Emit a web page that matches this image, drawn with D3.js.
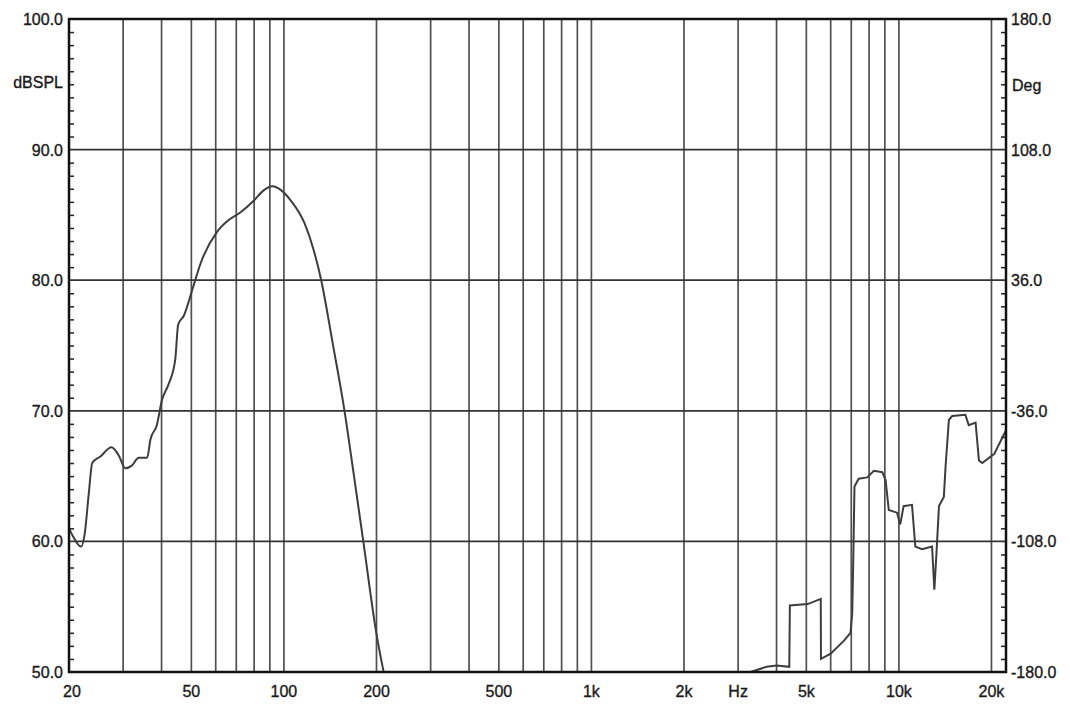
<!DOCTYPE html>
<html>
<head>
<meta charset="utf-8">
<script src="https://cdn.jsdelivr.net/npm/d3@7"></script>
<style>
  body { margin: 0; background: #fff; }
  text { font-family: 'Liberation Sans', Arial, sans-serif; fill: #1a1a1a; stroke: #1a1a1a; stroke-width: 0.35px; }
</style>
</head>
<body>
<svg id="chart" width="1070" height="712"></svg>
<script>
// Low band response (Hz, dBSPL)
const lowFreq = [20, 20.6, 21.9, 22.5, 23.2, 23.8, 25.3, 27.5, 29.0, 30.5, 32.0, 33.7, 35.9, 36.8, 38.6, 40.1, 42.1, 44.3, 45.3, 47.3, 50.7, 53.6, 60.6, 65.3, 72.3, 79.9, 86.1, 91.7, 97.8, 105.3, 116.5, 125, 132.2, 144, 157.4, 169, 181.2, 199.7, 211]
const lowDb = [61.0, 60.4, 59.6, 60.6, 63.7, 66.0, 66.5, 67.2, 66.6, 65.6, 65.8, 66.4, 66.4, 67.8, 68.9, 70.8, 72.0, 73.9, 76.6, 77.3, 79.5, 81.3, 83.7, 84.5, 85.2, 86.1, 86.9, 87.2, 86.9, 86.1, 84.4, 82.3, 80.0, 75.2, 70.0, 65.0, 60.0, 53.0, 50.0]

// High band trace (Hz, dBSPL)
const highFreq = [3296, 3710, 4000, 4400, 4420, 5050, 5570, 5580, 6000, 6630, 6960, 7050, 7100, 7170, 7400, 7890, 8290, 8830, 9050, 9270, 9860, 10100, 10360, 11030, 11310, 11890, 12820, 13040, 13250, 13500, 14000, 14180, 14540, 14910, 16450, 16870, 17760, 18210, 18670, 20430, 22070, 22300]
const highDb = [50.0, 50.4, 50.5, 50.4, 55.1, 55.2, 55.6, 51.0, 51.4, 52.4, 53.0, 54.5, 58.1, 64.2, 64.8, 64.9, 65.4, 65.3, 64.7, 62.4, 62.2, 61.3, 62.7, 62.8, 59.6, 59.4, 59.6, 56.3, 59.1, 62.7, 63.4, 65.7, 69.3, 69.6, 69.7, 68.9, 69.1, 66.2, 66.0, 66.7, 68.3, 68.5]

const freqGrid = [30, 40, 50, 60, 70, 80, 90, 100, 200, 300, 400, 500, 600, 700, 800, 900, 1000, 2000, 3000, 4000, 5000, 6000, 7000, 8000, 9000, 10000, 20000]
const freqTicks = [20, 50, 100, 200, 500, 1000, 2000, 3000, 5000, 10000, 20000]
const freqLabels = ['20', '50', '100', '200', '500', '1k', '2k', 'Hz', '5k', '10k', '20k']
const dbTicks = [50, 60, 70, 80, 90, 100]
const degTicks = [-180, -108, -36, 36, 108, 180]

const plotL = 69
const plotR = 1006
const plotT = 19
const plotB = 672

const svg = d3.select('#chart')

const x = d3.scaleLog().domain([20, 22300]).range([plotL, plotR])
const y = d3.scaleLinear().domain([50, 100]).range([plotB, plotT])
const yDeg = d3.scaleLinear().domain([-180, 180]).range([plotB, plotT])

// Grid
svg.append('g')
  .selectAll('line')
  .data(freqGrid)
  .enter()
  .append('line')
  .attr('x1', (d) => x(d)).attr('x2', (d) => x(d))
  .attr('y1', plotT).attr('y2', plotB)
  .attr('stroke', '#505050')
  .attr('stroke-width', 1.7)

svg.append('g')
  .selectAll('line')
  .data(dbTicks.slice(1, -1))
  .enter()
  .append('line')
  .attr('x1', plotL).attr('x2', plotR)
  .attr('y1', (d) => y(d)).attr('y2', (d) => y(d))
  .attr('stroke', '#333')
  .attr('stroke-width', 1.8)

// Minor ticks on left/right axes (1 dB steps)
const minor = d3.range(51, 100).filter((d) => d % 10 !== 0)
svg.append('g').call(
  d3.axisRight(y).tickValues(minor).tickSize(5).tickFormat('')
).attr('transform', 'translate(' + plotL + ',0)')
  .call((g) => g.select('.domain').remove())
  .call((g) => g.selectAll('line').attr('stroke', '#222').attr('stroke-width', 1.5))

svg.append('g').call(
  d3.axisLeft(y).tickValues(minor).tickSize(5).tickFormat('')
).attr('transform', 'translate(' + plotR + ',0)')
  .call((g) => g.select('.domain').remove())
  .call((g) => g.selectAll('line').attr('stroke', '#222').attr('stroke-width', 1.5))

// Curves
svg.append('path')
  .datum(lowFreq.map((f, i) => [f, lowDb[i]]))
  .attr('d', d3.line().x((d) => x(d[0])).y((d) => y(d[1])).curve(d3.curveMonotoneX))
  .attr('fill', 'none')
  .attr('stroke', '#3d3d3d')
  .attr('stroke-width', 2)

svg.append('path')
  .datum(highFreq.map((f, i) => [f, highDb[i]]))
  .attr('d', d3.line().x((d) => x(d[0])).y((d) => y(d[1])))
  .attr('fill', 'none')
  .attr('stroke', '#3d3d3d')
  .attr('stroke-width', 2)

// Frame
svg.append('rect')
  .attr('x', plotL).attr('y', plotT)
  .attr('width', plotR - plotL).attr('height', plotB - plotT)
  .attr('fill', 'none')
  .attr('stroke', '#111')
  .attr('stroke-width', 2.5)

// Labels
svg.append('g')
  .selectAll('text')
  .data(dbTicks)
  .enter()
  .append('text')
  .attr('x', 63)
  .attr('y', (d) => y(d) + 6)
  .attr('text-anchor', 'end')
  .style('font-size', '16px')
  .text((d) => d.toFixed(1))

svg.append('g')
  .selectAll('text')
  .data(degTicks)
  .enter()
  .append('text')
  .attr('x', 1011)
  .attr('y', (d) => yDeg(d) + 6)
  .attr('text-anchor', 'start')
  .style('font-size', '16px')
  .text((d) => d.toFixed(1))

svg.append('text')
  .attr('x', 63).attr('y', 88)
  .attr('text-anchor', 'end')
  .style('font-size', '16px')
  .text('dBSPL')

svg.append('text')
  .attr('x', 1012).attr('y', 91)
  .style('font-size', '16px')
  .text('Deg')

svg.append('g')
  .selectAll('text')
  .data(freqTicks)
  .enter()
  .append('text')
  .attr('x', (d) => x(d) + (d === 20 ? 3 : 0))
  .attr('y', 697)
  .attr('text-anchor', 'middle')
  .style('font-size', '16px')
  .text((d, i) => freqLabels[i])
</script>
</body>
</html>
